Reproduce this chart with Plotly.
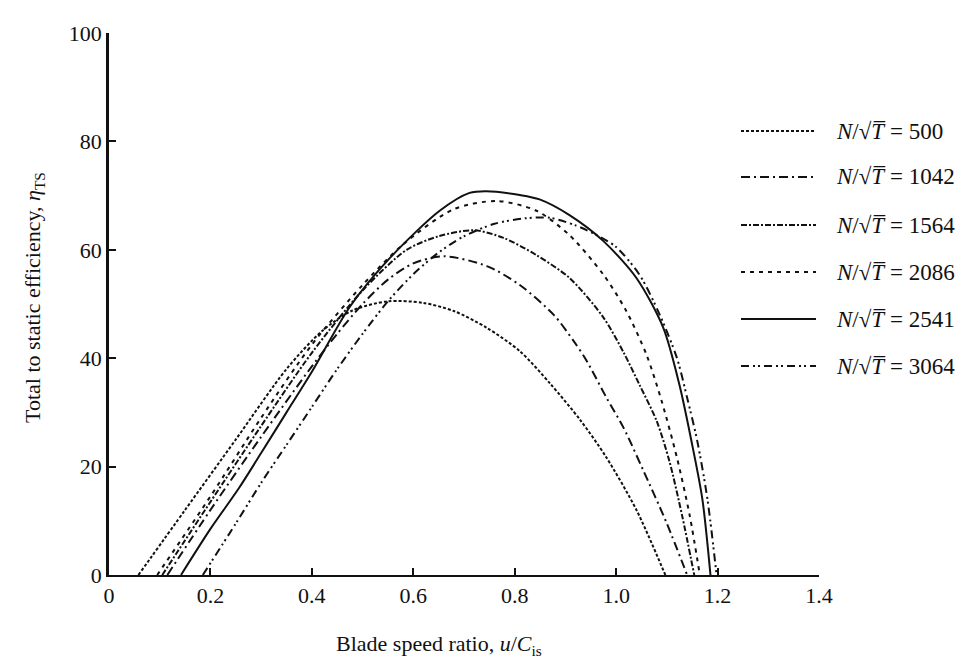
import plotly.graph_objects as go

# ---- data ----
labels = ["500", "1042", "1564", "2086", "2541", "3064"]

x_500 = [0.058, 0.15, 0.25, 0.35, 0.42, 0.48, 0.55, 0.62, 0.68, 0.745, 0.81, 0.87, 0.93, 0.98, 1.04, 1.097]
y_500 = [0, 12, 25, 38, 45, 48.8, 50.5, 50.2, 48.7, 45.6, 41.3, 35.3, 28.5, 21.8, 12, 0]

x_1042 = [0.115, 0.2, 0.3, 0.4, 0.45, 0.5, 0.55, 0.6, 0.66, 0.745, 0.81, 0.877, 0.916, 0.942, 0.981, 1.015, 1.054, 1.10, 1.14]
y_1042 = [0, 12, 25.5, 38.5, 44.5, 50, 54.5, 57.5, 58.8, 57, 53.5, 48, 43.2, 39.5, 32.7, 27.1, 19.2, 9.5, 0]

x_1564 = [0.105, 0.2, 0.3, 0.4, 0.5, 0.587, 0.65, 0.72, 0.778, 0.843, 0.908, 0.975, 1.015, 1.046, 1.08, 1.105, 1.13, 1.154]
y_1564 = [0, 13.5, 27.5, 41, 52.5, 60, 62.5, 63.6, 62.2, 59, 54.8, 47.5, 41, 35.1, 28.4, 21, 11, 0]

x_2086 = [0.095, 0.2, 0.3, 0.4, 0.5, 0.58, 0.68, 0.765, 0.843, 0.908, 0.975, 1.02, 1.06, 1.09, 1.12, 1.145, 1.165]
y_2086 = [0, 14.5, 29, 42.5, 53.5, 61, 67.5, 69, 67.2, 62.7, 55.4, 48.7, 40.6, 32, 21.6, 11, 0]

x_2541 = [0.142, 0.2, 0.256, 0.3, 0.35, 0.4, 0.475, 0.554, 0.652, 0.711, 0.744, 0.81, 0.849, 0.908, 0.975, 1.04, 1.093, 1.125, 1.15, 1.17, 1.186]
y_2541 = [0, 8.5, 16, 22.5, 30, 37.5, 49.5, 58.5, 67.2, 70.5, 70.8, 70.1, 69.3, 66.4, 61.6, 54.8, 45.6, 35, 24, 14, 0]

x_3064 = [0.185, 0.25, 0.3, 0.35, 0.4, 0.45, 0.5, 0.55, 0.6, 0.65, 0.7, 0.76, 0.82, 0.87, 0.92, 0.96, 1.0, 1.046, 1.086, 1.12, 1.14, 1.16, 1.18, 1.198]
y_3064 = [0, 9.5, 17, 24, 31, 38, 44.5, 50.5, 55.5, 59.5, 62.5, 64.8, 65.8, 65.9, 64.5, 62.8, 60.5, 55.4, 48, 40, 32.7, 24.7, 14, 0]

x_ticks = [0, 0.2, 0.4, 0.6, 0.8, 1.0, 1.2, 1.4]
x_ticklabels = ["0", "0.2", "0.4", "0.6", "0.8", "1.0", "1.2", "1.4"]
y_ticks = [0, 20, 40, 60, 80, 100]

series_x = [x_500, x_1042, x_1564, x_2086, x_2541, x_3064]
series_y = [y_500, y_1042, y_1564, y_2086, y_2541, y_3064]
dashes = ["3px,2px", "9px,4px,2px,4px", "6px,2px,2px,2px", "4px,5px", "solid", "8px,4px,2px,3px,2px,4px"]

INK = "#111111"
FONT = "Liberation Serif"
W, H = 977, 662
L, R, T, B = 101, 166, 25, 95
PW, PH = W - L - R, H - T - B

fig = go.Figure()
for xs, ys, d, lab in zip(series_x, series_y, dashes, labels):
    fig.add_trace(go.Scatter(
        x=xs, y=ys, mode="lines", name=lab, showlegend=False,
        line=dict(color=INK, width=2.0, dash=d, shape="spline", smoothing=0.8),
    ))

def px2paper_x(px):
    return (px - L) / PW

def py2paper_y(py):
    return (H - B - py) / PH

# manual legend (line samples + text)
row_y = [123, 169, 217, 264, 311, 358]
shapes = []
annotations = []
for ry, d, lab in zip(row_y, dashes, labels):
    shapes.append(dict(type="line", xref="paper", yref="paper",
                       x0=px2paper_x(733), x1=px2paper_x(808),
                       y0=py2paper_y(ry), y1=py2paper_y(ry),
                       line=dict(color=INK, width=2.0, dash=d)))
    annotations.append(dict(xref="paper", yref="paper", x=px2paper_x(826), y=py2paper_y(ry),
                            xanchor="left", yanchor="middle", showarrow=False,
                            text="<i>N</i>/√<i>T\u0305</i> = " + lab,
                            font=dict(family=FONT, size=23, color=INK)))

# axis titles
annotations.append(dict(xref="paper", yref="paper", x=px2paper_x(431), y=py2paper_y(637),
                        xanchor="center", yanchor="middle", showarrow=False,
                        text="Blade speed ratio, <i>u</i>/<i>C</i><sub>is</sub>",
                        font=dict(family=FONT, size=22, color=INK)))
annotations.append(dict(xref="paper", yref="paper", x=px2paper_x(26), y=py2paper_y(290),
                        xanchor="center", yanchor="middle", showarrow=False, textangle=-90,
                        text="Total to static efficiency, <i>η</i><sub>TS</sub>",
                        font=dict(family=FONT, size=22, color=INK)))

fig.update_layout(
    width=W, height=H,
    margin=dict(l=L, r=R, t=T, b=B, pad=0),
    paper_bgcolor="white", plot_bgcolor="white",
    shapes=shapes, annotations=annotations,
    font=dict(family=FONT, size=22, color=INK),
)
fig.update_xaxes(range=[0, 1.4], tickvals=x_ticks, ticktext=x_ticklabels,
                 showgrid=False, zeroline=False, showline=True, linecolor=INK, linewidth=2,
                 ticks="inside", ticklen=7, tickwidth=2, tickcolor=INK, automargin=False,
                 tickfont=dict(family=FONT, size=22, color=INK))
fig.update_yaxes(range=[0, 100], tickvals=y_ticks,
                 showgrid=False, zeroline=False, showline=True, linecolor=INK, linewidth=2.5,
                 ticks="inside", ticklen=7, tickwidth=2, tickcolor=INK, automargin=False,
                 tickfont=dict(family=FONT, size=22, color=INK))

fig.write_html("out.html")
